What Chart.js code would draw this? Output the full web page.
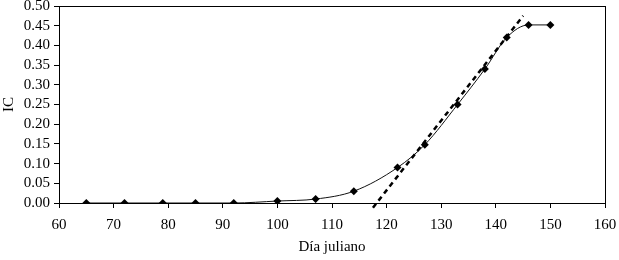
<!DOCTYPE html>
<html>
<head>
<meta charset="utf-8">
<script src="https://cdn.jsdelivr.net/npm/chart.js@4/dist/chart.umd.min.js"></script>
<style>
  html, body { margin: 0; padding: 0; background: #fff; }
  #wrap { width: 619px; height: 260px; position: relative; }
</style>
</head>
<body>
<div id="wrap"><canvas id="grafico"></canvas></div>
<script>
// datos
const dias = [65, 72, 79, 85, 92, 100, 107, 114, 122, 127, 133, 138, 142, 146, 150];
const ic = [0, 0, 0, 0, 0, 0.005, 0.01, 0.03, 0.09, 0.148, 0.25, 0.34, 0.42, 0.452, 0.452];
// recta de ajuste (punteada)
const rectaX = [117.5, 145];
const rectaY = [-0.012, 0.475];
const ticksX = [60, 70, 80, 90, 100, 110, 120, 130, 140, 150, 160];
const ticksY = [0, 0.05, 0.1, 0.15, 0.2, 0.25, 0.3, 0.35, 0.4, 0.45, 0.5];

const serif = 'Liberation Serif, Times New Roman, serif';

// marco alrededor del area del grafico
const marco = {
  id: 'marco',
  afterDraw(chart) {
    const a = chart.chartArea;
    const ctx = chart.ctx;
    ctx.save();
    ctx.strokeStyle = '#000';
    ctx.lineWidth = 1;
    ctx.strokeRect(Math.round(a.left) + 0.5, Math.round(a.top) + 0.5,
      Math.round(a.right - a.left), Math.round(a.bottom - a.top));
    ctx.restore();
  }
};

new Chart(document.getElementById('grafico').getContext('2d'), {
  type: 'scatter',
  data: {
    datasets: [
      {
        label: 'recta',
        data: rectaX.map((x, i) => ({ x: x, y: rectaY[i] })),
        showLine: true,
        borderColor: '#000',
        borderWidth: 2.5,
        borderDash: [5, 4],
        pointRadius: 0,
        clip: false
      },
      {
        label: 'IC',
        data: dias.map((x, i) => ({ x: x, y: ic[i] })),
        showLine: true,
        borderColor: '#111',
        borderWidth: 1,
        cubicInterpolationMode: 'monotone',
        pointStyle: 'rectRot',
        pointRadius: 4,
        pointBackgroundColor: '#000',
        pointBorderColor: '#000',
        pointBorderWidth: 0
      }
    ]
  },
  options: {
    responsive: true,
    maintainAspectRatio: false,
    animation: false,
    layout: { padding: { top: 6, right: 14, left: 0, bottom: 0 } },
    plugins: {
      legend: { display: false },
      tooltip: { enabled: false }
    },
    scales: {
      x: {
        type: 'linear',
        min: 60,
        max: 160,
        afterBuildTicks: s => { s.ticks = ticksX.map(v => ({ value: v })); },
        afterFit: s => { s.height = 57; s.paddingLeft = 0; s.paddingRight = 0; },
        grid: { drawOnChartArea: false, tickLength: 5, color: '#000' },
        border: { color: '#000', width: 1 },
        ticks: { color: '#000', font: { family: serif, size: 15 }, padding: 8, maxRotation: 0, autoSkip: false },
        title: { display: true, text: 'Día juliano', color: '#000', font: { family: serif, size: 15 }, padding: { top: 6 } }
      },
      y: {
        min: 0,
        max: 0.5,
        afterBuildTicks: s => { s.ticks = ticksY.map(v => ({ value: v })); },
        afterFit: s => { s.width = 59; s.paddingTop = 0; s.paddingBottom = 0; },
        grid: { drawOnChartArea: false, tickLength: 5, color: '#000' },
        border: { color: '#000', width: 1 },
        ticks: {
          autoSkip: false,
          color: '#000',
          font: { family: serif, size: 15 },
          padding: 4,
          callback: v => v.toFixed(2)
        },
        title: { display: true, text: 'IC', color: '#000', font: { family: serif, size: 15 }, padding: 0 }
      }
    }
  },
  plugins: [marco]
});
</script>
</body>
</html>
